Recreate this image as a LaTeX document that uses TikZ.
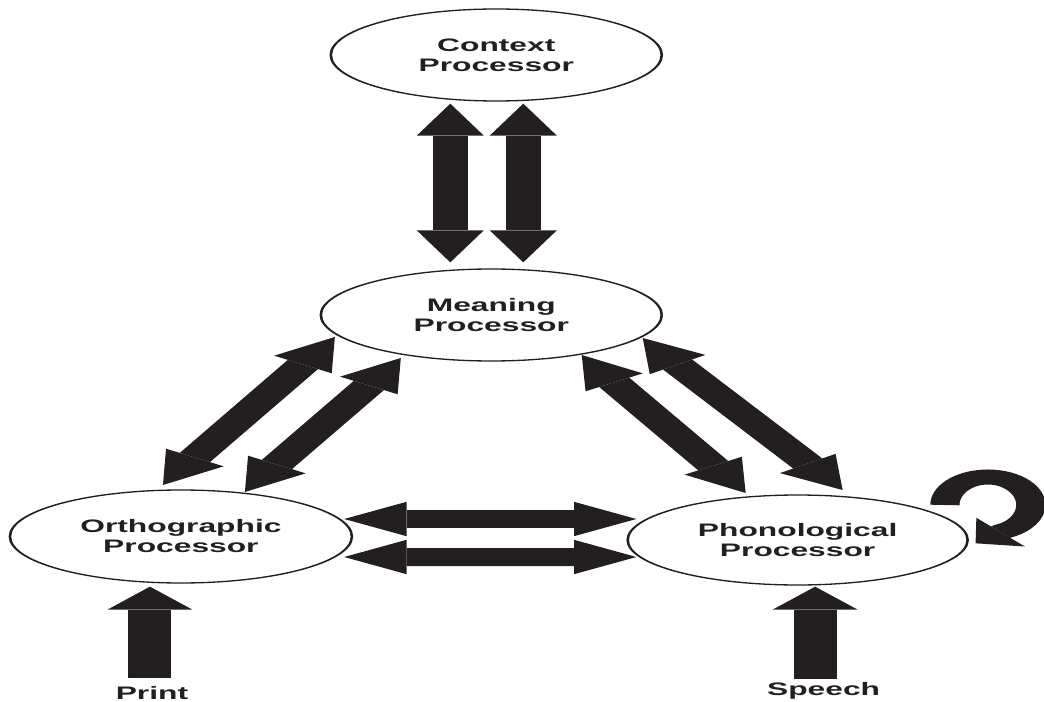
\documentclass[tikz,border=0pt]{standalone}
\usepackage{fontspec}
\usepackage{graphicx}
\setmainfont{Liberation Sans}
\usetikzlibrary{shapes.geometric,arrows.meta,calc}
\definecolor{ink}{RGB}{35,31,32}
% narrower bold lettering for the labels
\newcommand{\lbltext}[1]{\scalebox{0.9}[1]{#1}}
\begin{document}
\begin{tikzpicture}[x=0.02cm,y=-0.02cm]
\useasboundingbox[fill=white] (0,0) rectangle (1044,702);
% The whole drawing is set in a frame that is widened horizontally
\begin{scope}[x=0.0102564cm, transform canvas={xscale=1.95},
  lbl/.style={font=\fontsize{10.3}{11.4}\selectfont\bfseries, text=ink, align=center},
  proc/.style={ellipse, draw=ink, line width=0.75pt, inner sep=0pt, lbl},
  dbl/.style={draw=ink, line width=0.36cm,
    arrows={Triangle[width=0.688cm,length=0.64cm,line width=0pt]-Triangle[width=0.688cm,length=0.64cm,line width=0pt]}},
  feed/.style={draw=ink, line width=0.44cm,
    arrows={-Triangle[width=0.872cm,length=0.46cm,line width=0pt]}},
  selfloop/.style={draw=ink, line width=0.30cm,
    arrows={-Triangle[width=0.76cm,length=0.34cm,line width=0pt]}}]

  % processors
  \node[proc, minimum width=3.395cm, minimum height=1.84cm] (ctx)  at (496.5,55)
    {\lbltext{Context}\\\lbltext{Processor}};
  \node[proc, minimum width=3.497cm, minimum height=1.84cm] (mean) at (491.5,315)
    {\lbltext{Meaning}\\\lbltext{Processor}};
  \node[proc, minimum width=3.508cm, minimum height=1.86cm] (orth) at (181,536.5)
    {\lbltext{Orthographic}\\\lbltext{Processor}};
  \node[proc, minimum width=3.487cm, minimum height=1.80cm] (phon) at (798,540)
    {\lbltext{Phonological}\\\lbltext{Processor}};

  % inputs
  \node[lbl, anchor=base] (print)  at (152,699) {\lbltext{Print}};
  \node[lbl, anchor=base] (speech) at (824,695) {\lbltext{Speech}};
  \coordinate (printtail)  at (150,678);
  \coordinate (speechtail) at (815.5,679);

  % context <-> meaning
  \draw[dbl] ($(ctx.south)+(-46,2)$) -- ($(mean.north)+(-41,-6)$);
  \draw[dbl] ($(ctx.south)+(27,2)$)  -- ($(mean.north)+(32,-6)$);

  % meaning <-> orthographic
  \draw[dbl] ($(mean)+(-156.5,22)$) -- ($(orth)+(-18,-51.5)$);
  \draw[dbl] ($(mean)+(-90.5,43)$)  -- ($(orth)+(64,-44.5)$);

  % meaning <-> phonological
  \draw[dbl] ($(mean)+(90.5,40)$)  -- ($(phon)+(-52,-47)$);
  \draw[dbl] ($(mean)+(151.5,23)$) -- ($(phon)+(45,-50)$);

  % orthographic <-> phonological
  \draw[dbl] ($(orth.east)+(-9,-17.5)$) -- ($(phon.west)+(10,-21)$);
  \draw[dbl] ($(orth.east)+(-9,20.5)$)  -- ($(phon.west)+(10,17)$);

  % external inputs
  \draw[feed] (printtail)  -- ($(orth.south)+(-31,3)$);
  \draw[feed] (speechtail) -- ($(phon.south)+(17.5,1)$);

  % phonological self-loop
  \draw[selfloop] ($(phon.east)+(-24,-35)$)
    arc[start angle=180, end angle=430, x radius=43, y radius=28] -- ++(-27,12);
\end{scope}
\end{tikzpicture}
\end{document}
